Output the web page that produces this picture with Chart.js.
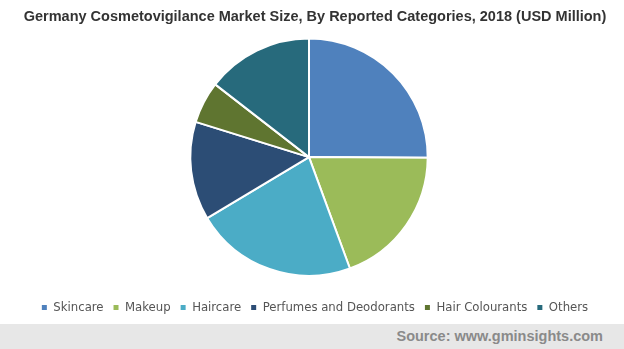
<!DOCTYPE html>
<html>
<head>
<meta charset="utf-8">
<script src="https://cdn.jsdelivr.net/npm/chart.js@4"></script>
<style>
  html, body { margin: 0; padding: 0; background: #fff; }
  #wrap { position: relative; width: 624px; height: 349px; overflow: hidden; }
  #box { width: 624px; height: 324px; }
  #source {
    position: absolute; left: 0; top: 324px; width: 624px; height: 25px;
    background: #e7e7e7; color: #8a8a8a;
    font: bold 14.5px "Liberation Sans", Arial, sans-serif;
    text-align: right; line-height: 25px; box-sizing: border-box; padding-right: 21px;
  }
</style>
</head>
<body>
<div id="wrap">
  <div id="box"><canvas id="chart"></canvas></div>
  <div id="source">Source: www.gminsights.com</div>
</div>
<script>
var categories = ['Skincare', 'Makeup', 'Haircare', 'Perfumes and Deodorants', 'Hair Colourants', 'Others'];
var shares = [25.1, 19.3, 22.0, 13.4, 5.7, 14.5];
var colors = ['#4f81bd', '#9bbb59', '#4bacc6', '#2c4d75', '#5f7530', '#276a7c'];

// pie sits a little left of the legend in the original
var nudgePie = {
  id: 'nudgePie',
  afterLayout: function(chart) {
    chart.chartArea.left -= 6;
    chart.chartArea.right -= 6;
  }
};

new Chart(document.getElementById('chart').getContext('2d'), {
  type: 'pie',
  data: {
    labels: categories,
    datasets: [{
      data: shares,
      backgroundColor: colors,
      borderColor: '#ffffff',
      borderWidth: 2
    }]
  },
  options: {
    responsive: true,
    maintainAspectRatio: false,
    animation: false,
    layout: { padding: { left: 6, right: 0, top: 0, bottom: 0 } },
    plugins: {
      tooltip: { enabled: false },
      title: {
        display: true,
        text: 'Germany Cosmetovigilance Market Size, By Reported Categories, 2018 (USD Million)',
        color: '#333333',
        font: { family: '"Liberation Sans", Arial, sans-serif', size: 14.5, weight: 'bold' },
        padding: { top: 8, bottom: 12 }
      },
      legend: {
        position: 'bottom',
        title: { display: true, text: '', font: { size: 1 }, padding: { top: 13, bottom: 0 } },
        labels: {
          color: '#555555',
          boxWidth: 5,
          boxHeight: 5,
          padding: 10,
          font: { family: '"DejaVu Sans Condensed", "Liberation Sans", sans-serif', size: 13 },
          generateLabels: function(chart) {
            // no white outline on the little legend squares
            return Chart.overrides.pie.plugins.legend.labels.generateLabels(chart).map(function(item) {
              item.lineWidth = 0;
              item.strokeStyle = item.fillStyle;
              return item;
            });
          }
        }
      }
    }
  },
  plugins: [nudgePie]
});
</script>
</body>
</html>
